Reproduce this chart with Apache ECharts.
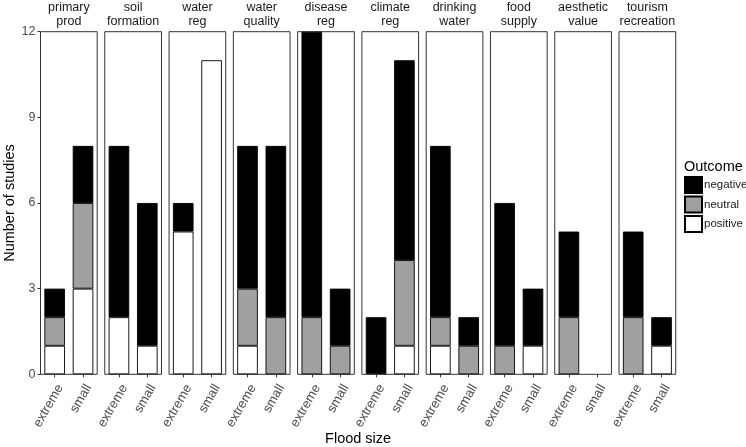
<!DOCTYPE html>
<html><head><meta charset="utf-8">
<script src="https://cdn.jsdelivr.net/npm/echarts@6/dist/echarts.min.js"></script>
<style>html,body{margin:0;padding:0;background:#fff}#c{width:746px;height:447px}</style>
</head><body><div id="c"></div>
<script>
// ---- data ----
const facets = ['primary\nprod','soil\nformation','water\nreg','water\nquality','disease\nreg','climate\nreg','drinking\nwater','food\nsupply','aesthetic\nvalue','tourism\nrecreation'];
const sizes = ['extreme','small'];
const outcomes = ['negative','neutral','positive'];
// per facet: [extreme, small]
const positive = [[1,3],[2,1],[5,11],[1,0],[0,0],[0,1],[1,0],[0,1],[0,0],[0,1]];
const neutral  = [[1,3],[0,0],[0,0],[2,2],[2,1],[0,3],[1,1],[1,0],[2,0],[2,0]];
const negative = [[1,2],[6,5],[1,0],[5,6],[10,2],[2,7],[6,1],[5,2],[3,0],[3,1]];
const yTicks = [0,3,6,9,12];

// ---- layout ----
const FONT = "'Liberation Sans', Arial, sans-serif";
const panelLeft0 = 40.5, panelStep = 64.28, panelW = 56.7, panelTop = 31.7, panelH = 342.6;
const colors = {positive:'#ffffff', neutral:'#a0a0a0', negative:'#000000'};
const seriesData = {positive, neutral, negative};

const grid = [], xAxis = [], yAxis = [], series = [], graphic = [];
facets.forEach((f, i) => {
  const left = panelLeft0 + i * panelStep;
  grid.push({left, top: panelTop, width: panelW, height: panelH, show: true,
    borderColor: '#333333', borderWidth: 1, backgroundColor: 'transparent', containLabel: false});
  xAxis.push({type: 'category', gridIndex: i, data: sizes,
    axisLine: {show: false},
    axisTick: {show: true, alignWithLabel: true, length: 3, lineStyle: {color: '#333'}},
    axisLabel: {rotate: 60, fontSize: 13, color: '#4d4d4d', fontFamily: FONT, margin: 8, interval: 0,
      verticalAlign: 'top'},
    splitLine: {show: false}});
  yAxis.push({type: 'value', gridIndex: i, min: 0, max: 12, interval: 3,
    axisLine: {show: false},
    axisTick: {show: i === 0, length: 3, lineStyle: {color: '#333'}},
    axisLabel: {show: i === 0, fontSize: 12.5, color: '#4d4d4d', fontFamily: FONT, margin: 5,
      formatter: v => yTicks.includes(v) ? String(v) : ''},
    splitLine: {show: false}});
  ['positive','neutral','negative'].forEach(o => {
    series.push({name: o, type: 'bar', xAxisIndex: i, yAxisIndex: i, stack: 'f' + i,
      barWidth: 20.6,
      data: seriesData[o][i].map(v => v === 0 ? null : v),
      itemStyle: {color: colors[o], borderColor: '#000', borderWidth: 0.9},
      emphasis: {disabled: true}});
  });
  graphic.push({type: 'text', x: left + panelW / 2, y: 1,
    style: {text: f, textAlign: 'center', textVerticalAlign: 'top', fontSize: 12.5,
      lineHeight: 13.5, fill: '#1a1a1a', fontFamily: FONT}});
});

graphic.push({type: 'text', x: 10, y: panelTop + panelH / 2, rotation: Math.PI / 2,
  style: {text: 'Number of studies', textAlign: 'center', textVerticalAlign: 'middle',
    fontSize: 14.5, fill: '#000', fontFamily: FONT}});
graphic.push({type: 'text', x: (panelLeft0 + panelLeft0 + 9 * panelStep + panelW) / 2, y: 439,
  style: {text: 'Flood size', textAlign: 'center', textVerticalAlign: 'middle',
    fontSize: 14.5, fill: '#000', fontFamily: FONT}});
graphic.push({type: 'text', x: 684, y: 167,
  style: {text: 'Outcome', textAlign: 'left', textVerticalAlign: 'middle',
    fontSize: 14.5, fill: '#000', fontFamily: FONT}});

const chart = echarts.init(document.getElementById('c'), null, {renderer: 'canvas'});
chart.setOption({
  animation: false,
  backgroundColor: '#fff',
  grid, xAxis, yAxis, series, graphic,
  legend: {data: outcomes, orient: 'vertical', left: 684, top: 176, padding: 0,
    itemWidth: 17, itemHeight: 16, itemGap: 1.5, icon: 'rect', selectedMode: false,
    textStyle: {fontSize: 11.5, color: '#1a1a1a', fontFamily: FONT, padding: [0, 0, 0, -3]}}
});
</script></body></html>
